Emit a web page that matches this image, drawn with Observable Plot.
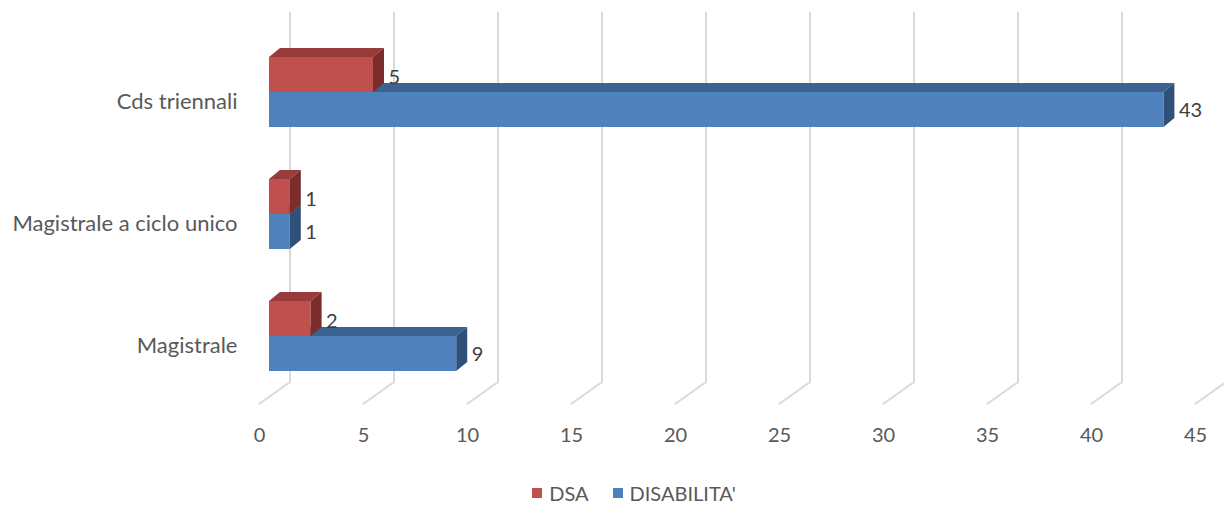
<!DOCTYPE html>
<html><head><meta charset="utf-8">
<script src="https://cdn.jsdelivr.net/npm/d3@7"></script>
<script src="https://cdn.jsdelivr.net/npm/@observablehq/plot@0.6"></script>
<style>
body{margin:0;background:#fff;font-family:Lato,"Open Sans",sans-serif;}
#legend{display:flex;justify-content:center;align-items:center;height:46px;font-size:20px;color:#595959;padding-left:44px;}
.li{display:flex;align-items:center;margin:0 12px;}
.sw{width:10px;height:10px;margin-right:7px;}
</style>
</head><body>
<div id="chart"></div>
<div id="legend"></div>
<script>
const categories = ["Cds triennali", "Magistrale a ciclo unico", "Magistrale"];
const dsaValues = [5, 1, 2];
const disabilitaValues = [43, 1, 9];
const seriesNames = ["DSA", "DISABILITA'"];
const xTicks = [0, 5, 10, 15, 20, 25, 30, 35, 40, 45];

const colors = {
  "DSA": {front: "#C0504D", top: "#973C3A", side: "#7A2D2B"},
  "DISABILITA'": {front: "#4F81BD", top: "#3C6291", side: "#2F5078"}
};

const rows = [];
categories.forEach((c, i) => {
  rows.push({category: c, series: "DSA", value: dsaValues[i]});
  rows.push({category: c, series: "DISABILITA'", value: disabilitaValues[i]});
});
const dsaRows = rows.filter(d => d.series === "DSA");
const disRows = rows.filter(d => d.series === "DISABILITA'");

const BDX = 11, BDY = -9;      // bar depth
const GDX = 21;                // back wall offset
const FDX = -10;               // floor front offset

function bw(scales) {
  const y = scales.y;
  if (y && typeof y.bandwidth === "function") return y.bandwidth();
  if (y && typeof y.bandwidth === "number") return y.bandwidth;
  if (scales.scales && scales.scales.y) return scales.scales.y.bandwidth;
  return 70;
}

function gridMark(index, scales, values, dims) {
  const g = d3.create("svg:g");
  const yBottom = dims.height - dims.marginBottom;
  const yTop = 12;
  for (const v of xTicks) {
    const xb = scales.x(v) + GDX;
    const xf = scales.x(v) + FDX;
    g.append("path")
      .attr("d", `M${xb},${yTop}L${xb},${yBottom + 11}L${xf},${yBottom + 33}`)
      .attr("fill", "none").attr("stroke", "#D9D9D9").attr("stroke-width", 2);
  }
  return g.node();
}

function facesMark(data, half) {
  return (index, scales, values, dims) => {
    const g = d3.create("svg:g");
    const b = bw(scales) / 2;
    for (const d of data) {
      const c = colors[d.series];
      const y0 = scales.y(d.category) + (half === 0 ? 0 : b);
      const y1 = y0 + b;
      const x0 = scales.x(0), x1 = scales.x(d.value);
      g.append("path")
        .attr("d", `M${x0},${y0}L${x1},${y0}L${x1 + BDX},${y0 + BDY}L${x0 + BDX},${y0 + BDY}Z`)
        .attr("fill", c.top);
      g.append("path")
        .attr("d", `M${x1},${y0}L${x1 + BDX},${y0 + BDY}L${x1 + BDX},${y1 + BDY}L${x1},${y1}Z`)
        .attr("fill", c.side);
    }
    return g.node();
  };
}

const plot = Plot.plot({
  width: 1224,
  height: 470,
  marginLeft: 269,
  marginRight: 19,
  marginTop: 56,
  marginBottom: 99,
  style: {fontFamily: "Lato, 'Open Sans', sans-serif", color: "#595959", background: "#fff"},
  x: {domain: [0, 45], axis: null},
  y: {type: "band", domain: categories, paddingInner: 0.4286, paddingOuter: 0, axis: null},
  marks: [
    gridMark,
    facesMark(disRows, 1),
    Plot.barX(disRows, {x1: 0, x2: "value", y: "category", fill: colors["DISABILITA'"].front, insetTop: 35}),
    Plot.barX(dsaRows, {x1: 0, x2: "value", y: "category", fill: colors["DSA"].front, insetBottom: 35}),
    facesMark(dsaRows, 0),
    Plot.text(dsaRows, {x: "value", y: "category", text: d => String(d.value), dx: 15, dy: -15, textAnchor: "start", fontSize: 20, fill: "#404040"}),
    Plot.text(disRows, {x: "value", y: "category", text: d => String(d.value), dx: 15, dy: 18, textAnchor: "start", fontSize: 20, fill: "#404040"}),
    Plot.text(xTicks, {x: d => d, text: d => String(d), frameAnchor: "bottom", dx: FDX, dy: 70, fontSize: 20, fill: "#595959"}),
    Plot.text(categories, {y: d => d, text: d => d, frameAnchor: "left", dx: -32, dy: 9, textAnchor: "end", fontSize: 22, fill: "#595959"})
  ]
});
document.getElementById("chart").appendChild(plot);

const legend = document.getElementById("legend");
for (const s of seriesNames) {
  const item = document.createElement("div");
  item.className = "li";
  item.innerHTML = `<span class="sw" style="background:${colors[s].front}"></span><span>${s}</span>`;
  legend.appendChild(item);
}
</script>
</body></html>
